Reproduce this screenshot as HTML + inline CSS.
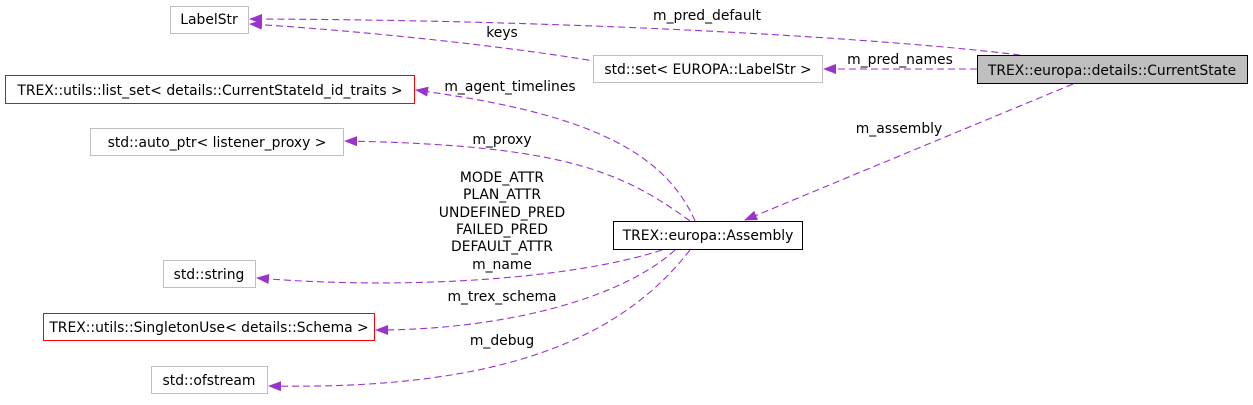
<!DOCTYPE html>
<html><head><meta charset="utf-8"><style>
body{margin:0;background:#fff;width:1253px;height:400px;overflow:hidden}
svg text{font-family:"DejaVu Sans","Liberation Sans",sans-serif;font-size:13.9px;fill:#000}
</style></head><body>
<svg width="1253" height="400" xmlns="http://www.w3.org/2000/svg">
<defs><marker id="a" markerWidth="13" markerHeight="10" refX="12" refY="5" orient="auto" markerUnits="userSpaceOnUse"><path d="M0,0 L13,5 L0,10 z" fill="#9a32cd"/></marker></defs>
<g fill="none" stroke="#9a32cd" stroke-dasharray="7,4" stroke-width="1.1" marker-end="url(#a)">
<path d="M1020,55 C900,40 600,20 250,19"/>
<path d="M600,62 C500,45 350,30 250,24"/>
<path d="M977,69 L824,69"/>
<path d="M1073,84 L745,220"/>
<path d="M695,221 C660,140 560,110 416,90"/>
<path d="M690,221 C620,170 560,145 345,141"/>
<path d="M662,250 C570,280 400,290 257,278"/>
<path d="M675,250 C620,300 500,330 376,330"/>
<path d="M690,250 C620,340 500,390 269,386"/>
</g>
<g stroke-width="1">
<rect x="170.5" y="6.5" width="78" height="27" fill="#fff" stroke="#bfbfbf"/>
<rect x="593.5" y="55.5" width="229" height="27" fill="#fff" stroke="#bfbfbf"/>
<rect x="977.5" y="55.5" width="270" height="28" fill="#bfbfbf" stroke="#000"/>
<rect x="5.5" y="75.5" width="409" height="28" fill="#fff" stroke="#ff0000"/>
<rect x="90.5" y="128.5" width="253" height="27" fill="#fff" stroke="#bfbfbf"/>
<rect x="613.5" y="221.5" width="189" height="28" fill="#fff" stroke="#000"/>
<rect x="163.5" y="260.5" width="92" height="27" fill="#fff" stroke="#bfbfbf"/>
<rect x="43.5" y="313.5" width="331" height="27" fill="#fff" stroke="#ff0000"/>
<rect x="151.5" y="366.5" width="116" height="27" fill="#fff" stroke="#bfbfbf"/>
</g>
<g text-anchor="middle">
<text x="209" y="24">LabelStr</text>
<text x="708" y="74">std::set&lt; EUROPA::LabelStr &gt;</text>
<text x="1112" y="75">TREX::europa::details::CurrentState</text>
<text x="210" y="95">TREX::utils::list_set&lt; details::CurrentStateId_id_traits &gt;</text>
<text x="217" y="147">std::auto_ptr&lt; listener_proxy &gt;</text>
<text x="708" y="240">TREX::europa::Assembly</text>
<text x="209" y="279">std::string</text>
<text x="209" y="332">TREX::utils::SingletonUse&lt; details::Schema &gt;</text>
<text x="209" y="385">std::ofstream</text>
<text x="707" y="20">m_pred_default</text>
<text x="502" y="37">keys</text>
<text x="900" y="64">m_pred_names</text>
<text x="899" y="133">m_assembly</text>
<text x="510" y="91">m_agent_timelines</text>
<text x="502" y="144">m_proxy</text>
<text x="502" y="182">MODE_ATTR</text>
<text x="502" y="199">PLAN_ATTR</text>
<text x="502" y="217">UNDEFINED_PRED</text>
<text x="502" y="234">FAILED_PRED</text>
<text x="502" y="251">DEFAULT_ATTR</text>
<text x="502" y="269">m_name</text>
<text x="502" y="301">m_trex_schema</text>
<text x="502" y="345">m_debug</text>
</g>
</svg>
</body></html>
